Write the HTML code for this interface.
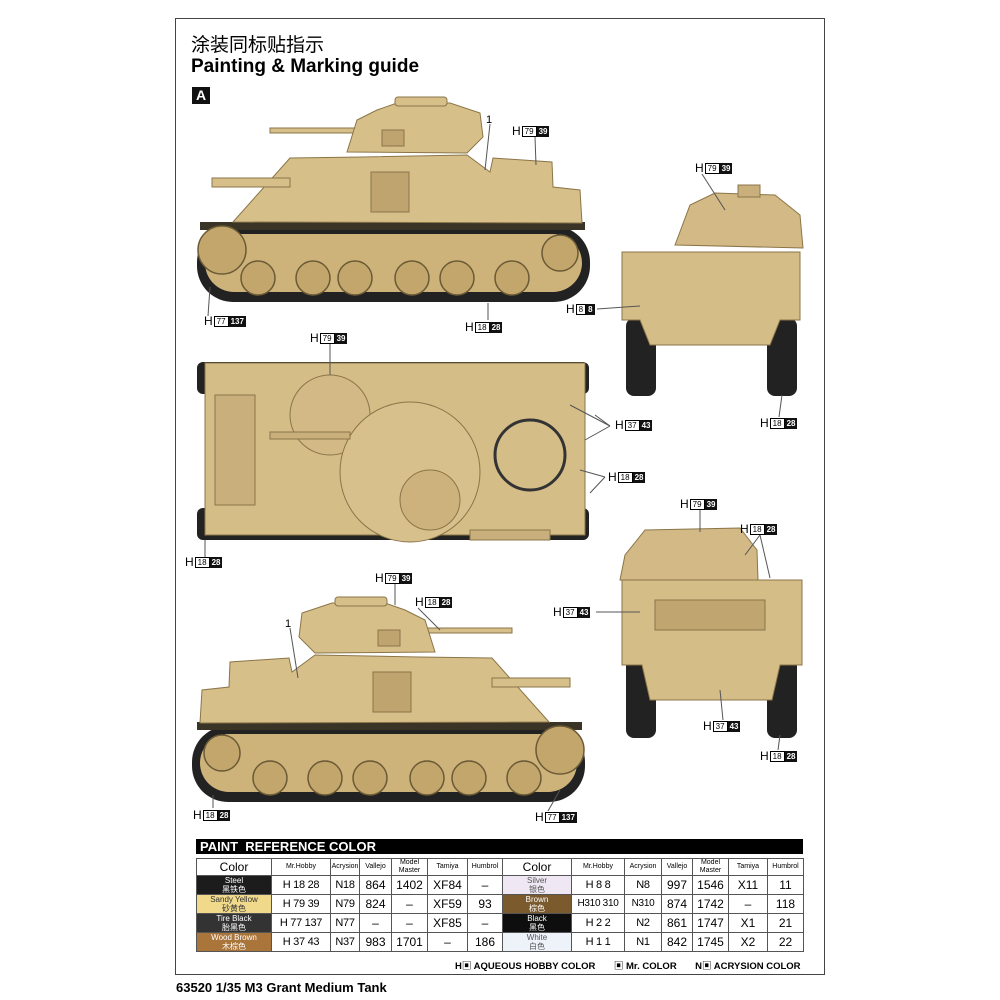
<!DOCTYPE html>
<html><head><meta charset="utf-8"><style>
body{margin:0;background:#fff;font-family:"Liberation Sans","Noto Sans CJK SC",sans-serif}
#pg{position:relative;width:1000px;height:1000px;overflow:hidden}
.frame{position:absolute;left:175px;top:18px;width:650px;height:957px;border:1px solid #444;box-sizing:border-box}
.lb{position:absolute;font-size:11px;white-space:nowrap;display:flex;align-items:center;height:12px}
.lb b{font-weight:normal;font-size:12px;margin-right:1px}
.lb i{font-style:normal;border:1px solid #000;font-size:8px;line-height:9px;padding:0 2px}
.lb u{text-decoration:none;background:#111;color:#fff;font-size:8px;line-height:11px;padding:0 2px;font-weight:bold}
table{position:absolute;left:196px;top:858px;width:607px;border-collapse:collapse;table-layout:fixed;font-size:12px}
td{border:1px solid #555;text-align:center;padding:0;height:18px;font-size:12px;white-space:nowrap;overflow:hidden;line-height:12px}
.hd td{font-size:7px;height:15px;line-height:8px;white-space:normal}
.cc{font-size:8px;line-height:9px;color:#fff}
.sm{font-size:11px;letter-spacing:-0.3px}
</style></head><body><div id="pg">
<div class="frame"></div>
<div style="position:absolute;left:191px;top:30px;font-size:19px;">涂装同标贴指示</div>
<div style="position:absolute;left:191px;top:56px;font-size:19px;font-weight:bold">Painting &amp; Marking guide</div>
<div style="position:absolute;left:192px;top:87px;width:18px;height:17px;background:#111;color:#fff;font-weight:bold;font-size:14px;text-align:center;line-height:17px">A</div>

<svg width="1000" height="1000" style="position:absolute;left:0;top:0">
<defs>
<g id="side">
 <rect x="197" y="226" width="393" height="76" rx="36" fill="#222"/>
 <rect x="205" y="234" width="377" height="58" rx="29" fill="#cdb27a"/>
 <rect x="200" y="222" width="385" height="8" fill="#3a3426"/>
 <g fill="#c3a66b" stroke="#6b5a36" stroke-width="1.5">
  <circle cx="258" cy="278" r="17"/><circle cx="313" cy="278" r="17"/><circle cx="355" cy="278" r="17"/>
  <circle cx="412" cy="278" r="17"/><circle cx="457" cy="278" r="17"/><circle cx="512" cy="278" r="17"/>
  <circle cx="222" cy="250" r="24"/><circle cx="560" cy="253" r="18"/>
 </g>
 <g fill="#d7bf8a" stroke="#8b7548" stroke-width="1">
  <polygon points="233,222 290,158 363,157 467,155 490,172 493,158 552,162 553,187 580,190 582,223"/>
  <rect x="212" y="178" width="78" height="9"/>
  <rect x="270" y="128" width="87" height="5"/>
  <polygon points="347,152 357,120 377,110 397,103 450,103 480,113 483,137 467,153"/>
  <rect x="395" y="97" width="52" height="9" rx="3"/>
 </g>
 <g fill="#c0a46f" stroke="#8b7548" stroke-width="1">
  <rect x="371" y="172" width="38" height="40"/><rect x="382" y="130" width="22" height="16"/>
 </g>
</g>
</defs>
<use href="#side"/>
<use href="#side" transform="translate(782,500) scale(-1,1)"/>

<g>
 <rect x="626" y="318" width="30" height="78" rx="8" fill="#222"/>
 <rect x="767" y="318" width="30" height="78" rx="8" fill="#222"/>
 <polygon points="622,252 800,252 800,320 780,320 770,345 650,345 640,320 622,320" fill="#d5bd88" stroke="#8b7548"/>
 <polygon points="675,245 690,205 715,193 775,195 800,215 803,248" fill="#d2b985" stroke="#8b7548"/>
 <rect x="738" y="185" width="22" height="12" fill="#c9af7b" stroke="#8b7548"/>
</g>
<g>
 <rect x="626" y="658" width="30" height="80" rx="8" fill="#222"/>
 <rect x="767" y="658" width="30" height="80" rx="8" fill="#222"/>
 <polygon points="622,580 802,580 802,665 780,665 772,700 650,700 642,665 622,665" fill="#d5bd88" stroke="#8b7548"/>
 <polygon points="620,580 625,555 645,530 740,528 757,550 758,580" fill="#d2b985" stroke="#8b7548"/>
 <rect x="655" y="600" width="110" height="30" fill="#c1a570" stroke="#8b7548"/>
</g>
<g>
 <rect x="197" y="362" width="392" height="32" rx="6" fill="#222"/>
 <rect x="197" y="508" width="392" height="32" rx="6" fill="#222"/>
 <rect x="205" y="363" width="380" height="172" fill="#d5bd88" stroke="#8b7548"/>
 <rect x="215" y="395" width="40" height="110" fill="#c9af7b" stroke="#8b7548"/>
 <circle cx="330" cy="415" r="40" fill="#d2b985" stroke="#8b7548"/>
 <circle cx="410" cy="472" r="70" fill="#d8c08c" stroke="#8b7548"/>
 <circle cx="430" cy="500" r="30" fill="#cdb27d" stroke="#8b7548"/>
 <rect x="270" y="432" width="80" height="7" fill="#c9af7b" stroke="#8b7548"/>
 <circle cx="530" cy="455" r="35" fill="none" stroke="#333" stroke-width="3"/>
 <rect x="470" y="530" width="80" height="10" fill="#c9af7b" stroke="#8b7548"/>
</g>
<g stroke="#555" stroke-width="1" fill="none">
 <line x1="490" y1="124" x2="485" y2="170"/><line x1="535" y1="137" x2="536" y2="165"/>
 <line x1="208" y1="316" x2="210" y2="287"/><line x1="488" y1="320" x2="488" y2="303"/>
 <line x1="702" y1="174" x2="725" y2="210"/><line x1="597" y1="309" x2="640" y2="306"/>
 <line x1="330" y1="344" x2="330" y2="375"/>
 <line x1="610" y1="426" x2="570" y2="405"/><line x1="610" y1="426" x2="595" y2="415"/><line x1="610" y1="426" x2="585" y2="440"/>
 <line x1="605" y1="477" x2="580" y2="470"/><line x1="605" y1="477" x2="590" y2="493"/>
 <line x1="779" y1="417" x2="782" y2="395"/><line x1="205" y1="557" x2="205" y2="540"/>
 <line x1="700" y1="510" x2="700" y2="532"/><line x1="760" y1="535" x2="745" y2="555"/><line x1="760" y1="535" x2="770" y2="578"/>
 <line x1="596" y1="612" x2="640" y2="612"/><line x1="723" y1="720" x2="720" y2="690"/><line x1="778" y1="750" x2="780" y2="735"/>
 <line x1="395" y1="584" x2="395" y2="605"/><line x1="418" y1="608" x2="440" y2="630"/>
 <line x1="290" y1="628" x2="298" y2="678"/><line x1="213" y1="808" x2="213" y2="795"/><line x1="548" y1="811" x2="560" y2="790"/>
</g>
<text x="486" y="123" font-size="11" font-family="Liberation Sans">1</text>
<text x="285" y="627" font-size="11" font-family="Liberation Sans">1</text>
</svg>

<div class="lb" style="left:512px;top:125px"><b>H</b><i>79</i><u>39</u></div>
<div class="lb" style="left:204px;top:315px"><b>H</b><i>77</i><u>137</u></div>
<div class="lb" style="left:465px;top:321px"><b>H</b><i>18</i><u>28</u></div>
<div class="lb" style="left:695px;top:162px"><b>H</b><i>79</i><u>39</u></div>
<div class="lb" style="left:566px;top:303px"><b>H</b><i>8</i><u>8</u></div>
<div class="lb" style="left:310px;top:332px"><b>H</b><i>79</i><u>39</u></div>
<div class="lb" style="left:615px;top:419px"><b>H</b><i>37</i><u>43</u></div>
<div class="lb" style="left:608px;top:471px"><b>H</b><i>18</i><u>28</u></div>
<div class="lb" style="left:760px;top:417px"><b>H</b><i>18</i><u>28</u></div>
<div class="lb" style="left:185px;top:556px"><b>H</b><i>18</i><u>28</u></div>
<div class="lb" style="left:680px;top:498px"><b>H</b><i>79</i><u>39</u></div>
<div class="lb" style="left:740px;top:523px"><b>H</b><i>18</i><u>28</u></div>
<div class="lb" style="left:553px;top:606px"><b>H</b><i>37</i><u>43</u></div>
<div class="lb" style="left:703px;top:720px"><b>H</b><i>37</i><u>43</u></div>
<div class="lb" style="left:760px;top:750px"><b>H</b><i>18</i><u>28</u></div>
<div class="lb" style="left:375px;top:572px"><b>H</b><i>79</i><u>39</u></div>
<div class="lb" style="left:415px;top:596px"><b>H</b><i>18</i><u>28</u></div>
<div class="lb" style="left:193px;top:809px"><b>H</b><i>18</i><u>28</u></div>
<div class="lb" style="left:535px;top:811px"><b>H</b><i>77</i><u>137</u></div>

<div style="position:absolute;left:196px;top:839px;width:607px;height:15px;background:#000;color:#fff;font-weight:bold;font-size:13px;line-height:15px;padding-left:4px;box-sizing:border-box">PAINT&nbsp; REFERENCE COLOR</div>
<table>
<colgroup><col style="width:75px"><col style="width:59px"><col style="width:29px"><col style="width:32px"><col style="width:36px"><col style="width:40px"><col style="width:35px"><col style="width:69px"><col style="width:53px"><col style="width:37px"><col style="width:31px"><col style="width:36px"><col style="width:39px"><col style="width:36px"></colgroup>
<tr class="hd"><td style="font-size:12px">Color</td><td>Mr.Hobby</td><td>Acrysion</td><td>Vallejo</td><td>Model Master</td><td>Tamiya</td><td>Humbrol</td><td style="font-size:12px">Color</td><td>Mr.Hobby</td><td>Acrysion</td><td>Vallejo</td><td>Model Master</td><td>Tamiya</td><td>Humbrol</td></tr>
<tr><td class="cc" style="background:#1c1c1c">Steel<br>黑铁色</td><td class="sm">H 18 28</td><td class="sm">N18</td><td>864</td><td>1402</td><td>XF84</td><td>–</td><td class="cc" style="background:#efe8f4;color:#555">Silver<br>银色</td><td class="sm">H 8 8</td><td class="sm">N8</td><td>997</td><td>1546</td><td>X11</td><td>11</td></tr>
<tr><td class="cc" style="background:#f1d98c;color:#333">Sandy Yellow<br>砂黄色</td><td class="sm">H 79 39</td><td class="sm">N79</td><td>824</td><td>–</td><td>XF59</td><td>93</td><td class="cc" style="background:#7b5a2e">Brown<br>棕色</td><td class="sm" style="font-size:10px">H310 310</td><td class="sm" style="font-size:10px">N310</td><td>874</td><td>1742</td><td>–</td><td>118</td></tr>
<tr><td class="cc" style="background:#333">Tire Black<br>胎黑色</td><td class="sm">H 77 137</td><td class="sm">N77</td><td>–</td><td>–</td><td>XF85</td><td>–</td><td class="cc" style="background:#0e0e0e">Black<br>黑色</td><td class="sm">H 2 2</td><td class="sm">N2</td><td>861</td><td>1747</td><td>X1</td><td>21</td></tr>
<tr><td class="cc" style="background:#a9753a">Wood Brown<br>木棕色</td><td class="sm">H 37 43</td><td class="sm">N37</td><td>983</td><td>1701</td><td>–</td><td>186</td><td class="cc" style="background:#eef3fa;color:#555">White<br>白色</td><td class="sm">H 1 1</td><td class="sm">N1</td><td>842</td><td>1745</td><td>X2</td><td>22</td></tr>
</table>
<div style="position:absolute;left:455px;top:958px;font-size:9.5px;font-weight:bold;white-space:nowrap">H▣ AQUEOUS HOBBY COLOR&nbsp;&nbsp;&nbsp;&nbsp;&nbsp;&nbsp; ▣ Mr. COLOR&nbsp;&nbsp;&nbsp;&nbsp;&nbsp;&nbsp; N▣ ACRYSION COLOR</div>
<div style="position:absolute;left:176px;top:980px;font-size:13px;font-weight:bold">63520 1/35 M3 Grant Medium Tank</div>
</div></body></html>
